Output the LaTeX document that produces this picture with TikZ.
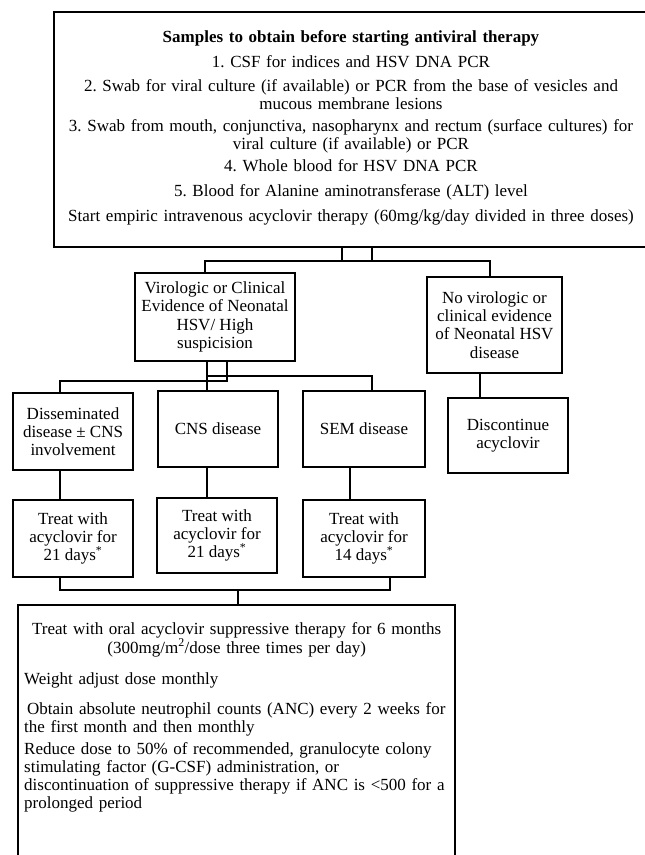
\documentclass[tikz,border=0pt]{standalone}
\usepackage{fontspec}
\setmainfont{Liberation Serif}
\frenchspacing
\begin{document}
\begin{tikzpicture}[x=1pt,y=-1pt,
  box/.style={draw,line width=2.4pt,inner sep=2pt,align=center,font=\fontsize{17}{18.2}\selectfont},
  conn/.style={line width=2.2pt}]
\useasboundingbox (0,0) rectangle (645,855);
\clip (0,0) rectangle (645,855);
% top box
\node[box,minimum width=594pt,minimum height=235pt,text width=590pt,font=\fontsize{17}{17.5}\selectfont] (top) at (351,129.5)
 {\textbf{Samples to obtain before starting antiviral therapy}\\[7.5pt]
  1. CSF for indices and HSV DNA PCR\\[6.5pt]
  2. Swab for viral culture (if available) or PCR from the base of vesicles and\\ mucous membrane lesions\\[5pt]
  3. Swab from mouth, conjunctiva, nasopharynx and rectum (surface cultures) for\\[0.5pt] viral culture (if available) or PCR\\[4.5pt]
  4. Whole blood for HSV DNA PCR\\[7.5pt]
  5. Blood for Alanine aminotransferase (ALT) level\\[7.5pt]
  Start empiric intravenous acyclovir therapy (60mg/kg/day divided in three doses)\\[-11pt]\mbox{}};
% second level
\node[box,minimum width=160pt,minimum height=88pt] (vir) at (215,317)
 {Virologic or Clinical\\Evidence of Neonatal\\HSV/ High\\suspicision};
\node[box,minimum width=135pt,minimum height=96pt] (novir) at (494.5,325)
 {No virologic or\\clinical evidence\\of Neonatal HSV\\disease};
% third level
\node[box,minimum width=120pt,minimum height=77pt] (dis) at (73,431.5)
 {Disseminated\\disease ± CNS\\involvement};
\node[box,minimum width=120pt,minimum height=76pt] (cns) at (218,429) {CNS disease};
\node[box,minimum width=122pt,minimum height=76pt] (sem) at (364,429) {SEM disease};
\node[box,minimum width=120pt,minimum height=75pt] (disc) at (508,435.5) {Discontinue\\acyclovir};
% fourth level
\node[box,minimum width=120pt,minimum height=77pt] (t1) at (73,538.5)
 {Treat with\\acyclovir for\\21 days\textsuperscript{*}};
\node[box,minimum width=120pt,minimum height=75pt] (t2) at (217,535.5)
 {Treat with\\acyclovir for\\21 days\textsuperscript{*}};
\node[box,minimum width=122pt,minimum height=77pt] (t3) at (364,538.5)
 {Treat with\\acyclovir for\\14 days\textsuperscript{*}};
% bottom box
\node[box,minimum width=437pt,minimum height=295pt] (bot) at (236.5,752.5) {};
\node[anchor=north west,inner sep=0pt,text width=428pt,align=left,font=\fontsize{17}{18}\selectfont] (bottxt) at (24,622)
 {\makebox[425pt]{Treat with oral acyclovir suppressive therapy for 6 months}\\[1pt]
  \makebox[425pt]{(300mg/m\textsuperscript{2}/dose three times per day)}\\[13pt]
  Weight adjust dose monthly\\[12pt]
  \hspace{3pt}Obtain absolute neutrophil counts (ANC) every 2 weeks for\\[0pt]
  the first month and then monthly\\[4pt]
  Reduce dose to 50\% of recommended, granulocyte colony\\
  stimulating factor (G-CSF) administration, or\\
  discontinuation of suppressive therapy if ANC is <500 for a\\
  prolonged period};
% helper coordinates
\coordinate (a342) at (342,261);
\coordinate (a372) at (372,261);
\coordinate (b205) at (205,261);
\coordinate (b490) at (490,261);
\coordinate (c207) at (207,376);
\coordinate (c227) at (227,381);
\coordinate (c60) at (60,381);
\coordinate (c372) at (372,376);
\coordinate (d480) at (480,0);
\coordinate (e60) at (60,0);
\coordinate (e207) at (207,0);
\coordinate (e350) at (350,0);
\coordinate (f60) at (60,590);
\coordinate (f390) at (390,590);
\coordinate (f238) at (238,590);
% connectors
\draw[conn] (top.south -| a342) -- (a342);
\draw[conn] (top.south -| a372) -- (a372);
\draw[conn] (vir.north -| b205) -- (b205) -- (b490) -- (novir.north -| b490);
\draw[conn] (vir.south -| c207) -- (cns.north -| c207);
\draw[conn] (c207) -- (c372) -- (sem.north -| c372);
\draw[conn] (vir.south -| c227) -- (c227) -- (c60) -- (dis.north -| c60);
\draw[conn] (novir.south -| d480) -- (disc.north -| d480);
\draw[conn] (dis.south -| e60) -- (t1.north -| e60);
\draw[conn] (cns.south -| e207) -- (t2.north -| e207);
\draw[conn] (sem.south -| e350) -- (t3.north -| e350);
\draw[conn] (t1.south -| f60) -- (f60) -- (f390) -- (t3.south -| f390);
\draw[conn] (f238) -- (bot.north -| f238);
\end{tikzpicture}
\end{document}
